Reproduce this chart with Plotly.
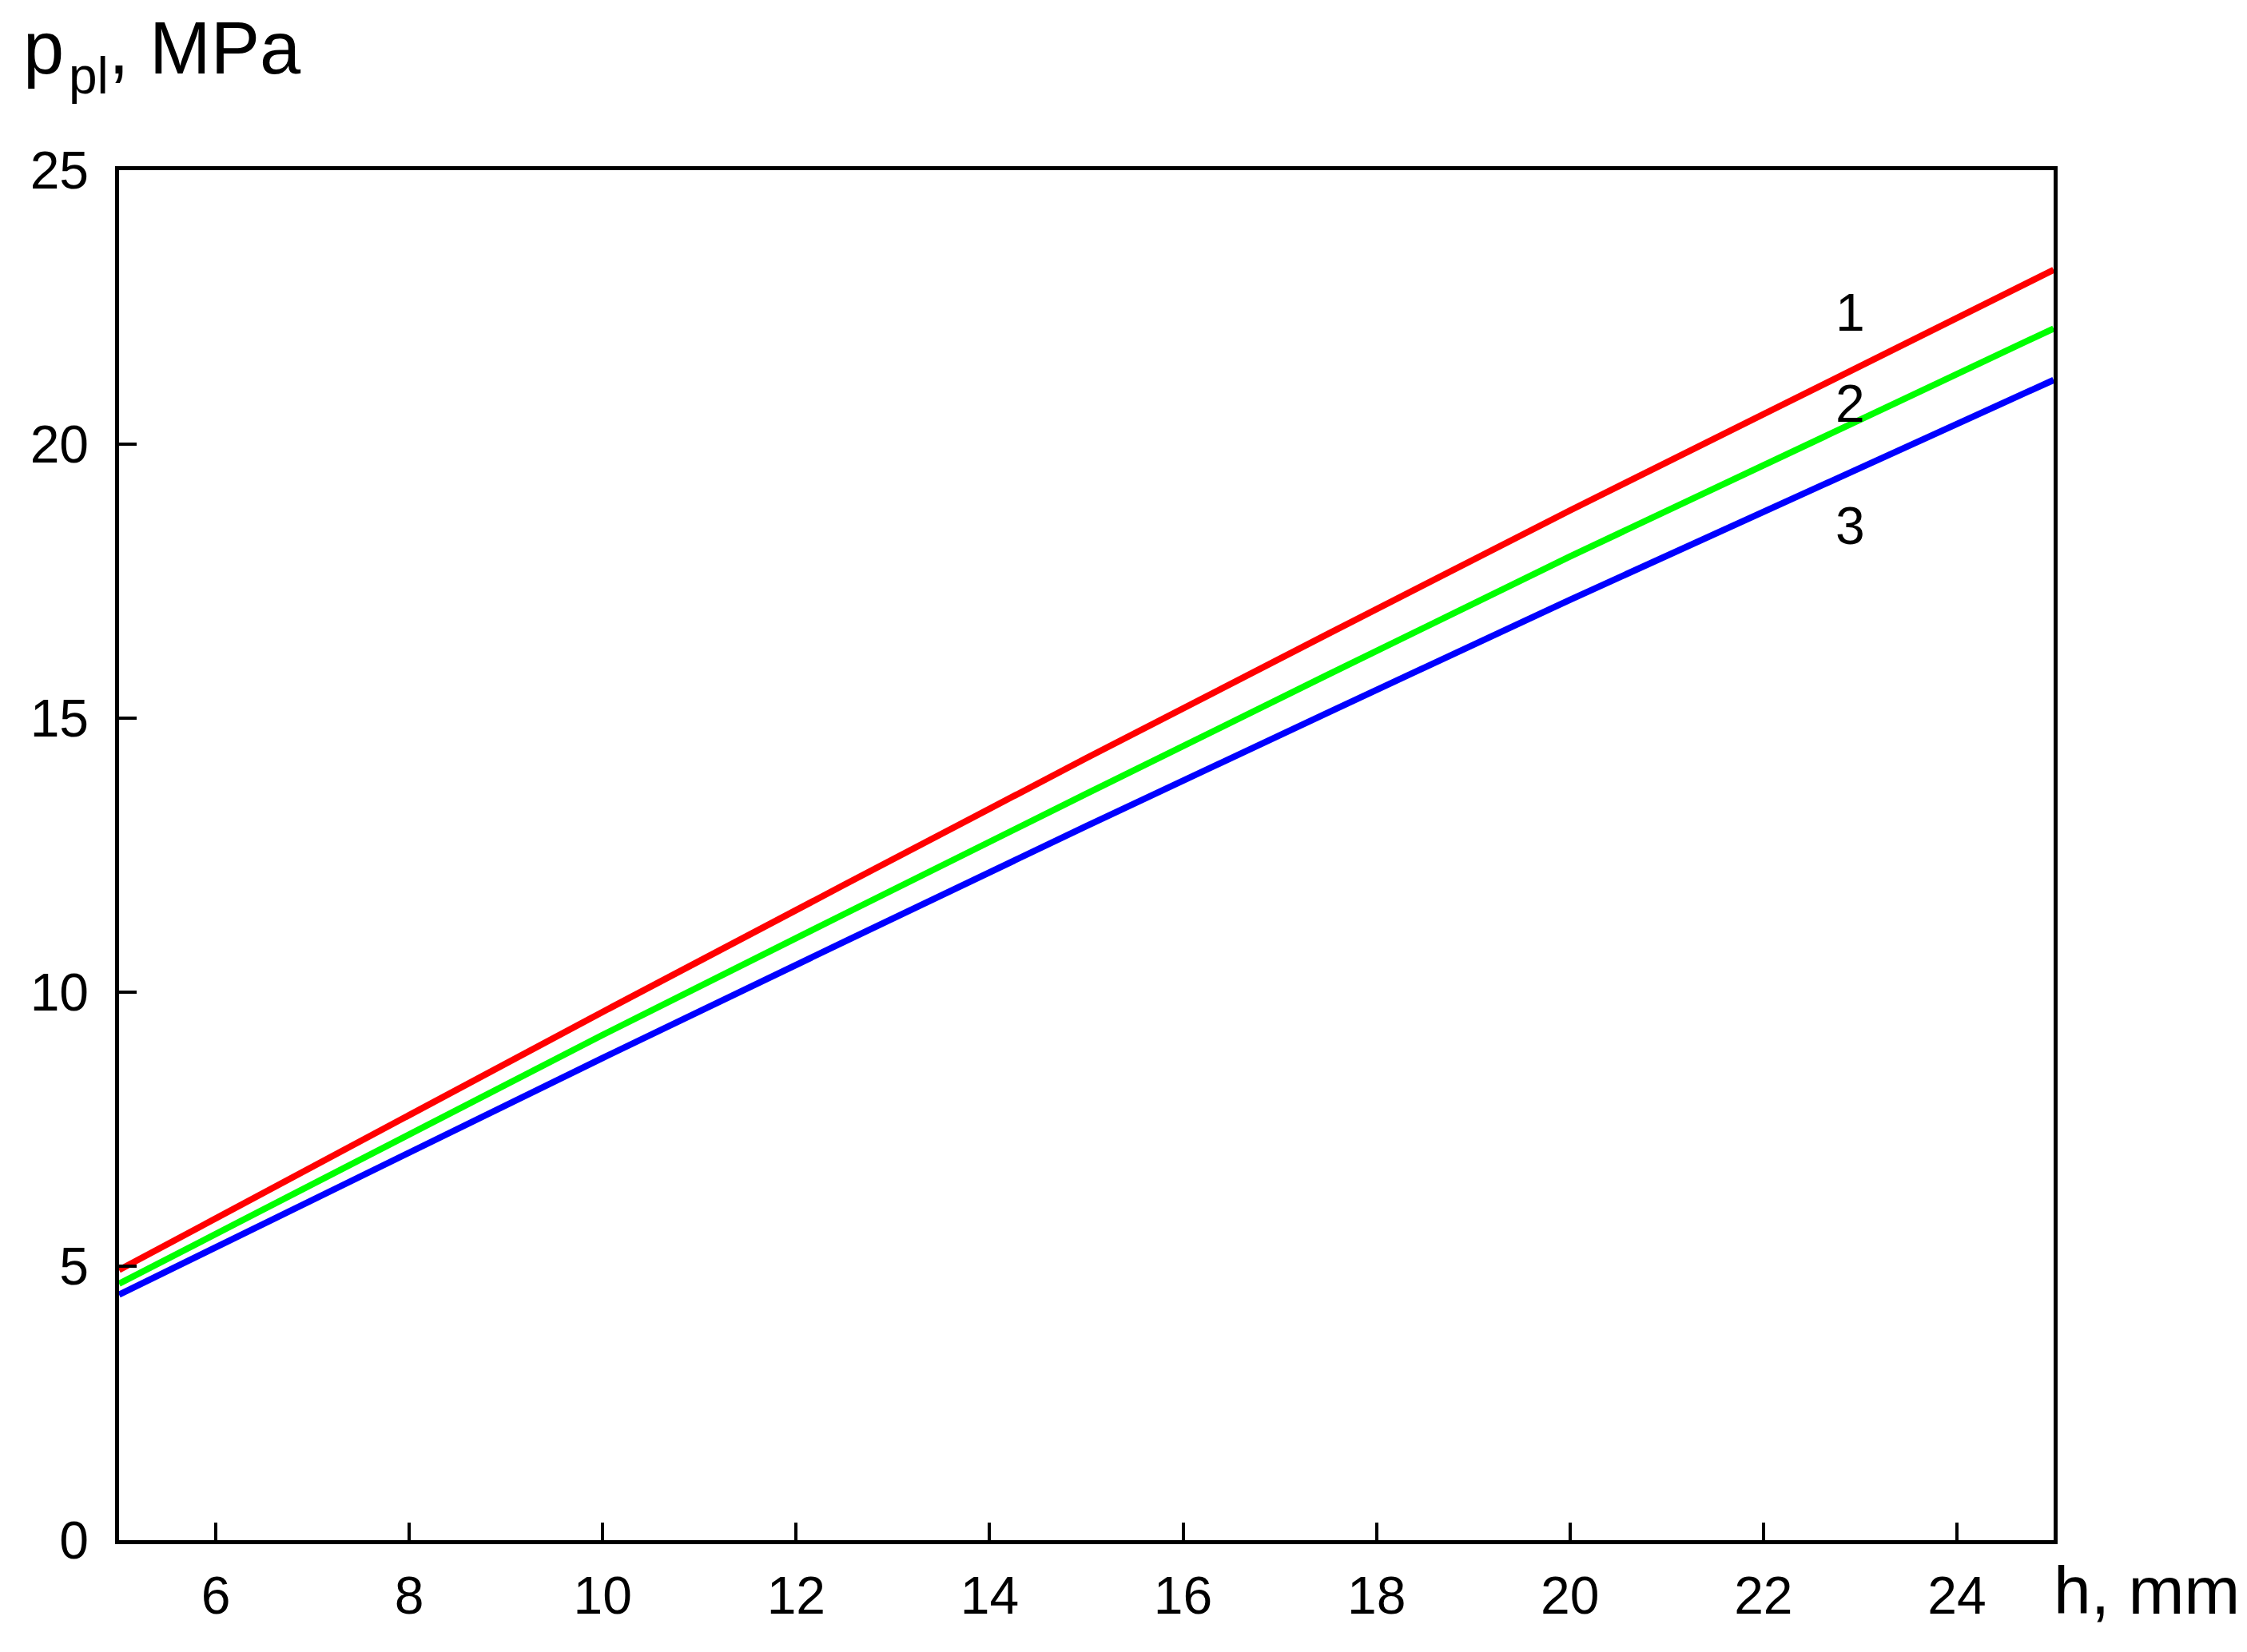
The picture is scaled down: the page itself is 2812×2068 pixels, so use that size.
import plotly.graph_objects as go

# h, mm
h = [5, 10, 15, 20, 25]

# p_pl, MPa for the three curves
p1 = [4.93, 9.64, 14.27, 18.79, 23.18]
p2 = [4.68, 9.22, 13.62, 17.95, 22.11]
p3 = [4.48, 8.80, 13.03, 17.16, 21.17]

curve_names = ["1", "2", "3"]
curve_colors = ["#ff0000", "#00ff00", "#0000ff"]
label_h = [22.9, 22.9, 22.9]
label_p = [22.41, 20.74, 18.51]

x_ticks = [6, 8, 10, 12, 14, 16, 18, 20, 22, 24]
y_ticks = [0, 5, 10, 15, 20, 25]

FONT = "Liberation Sans, Arial, sans-serif"

fig = go.Figure()
for name, p, c in zip(curve_names, [p1, p2, p3], curve_colors):
    fig.add_trace(go.Scatter(x=h, y=p, mode="lines", name=name,
                             line=dict(color=c, width=8, shape="spline",
                                       smoothing=0.6)))

for name, xh, yp in zip(curve_names, label_h, label_p):
    fig.add_annotation(x=xh, y=yp, text=name, showarrow=False,
                       font=dict(size=66, color="black", family=FONT))

# y axis title, split so the subscript sits lower like the original
fig.add_annotation(xref="paper", yref="paper", x=-0.0504, y=1.12,
                   xanchor="left", yanchor="top", showarrow=False,
                   text="p", font=dict(size=92, color="black", family=FONT))
fig.add_annotation(xref="paper", yref="paper", x=-0.0268, y=1.091,
                   xanchor="left", yanchor="top", showarrow=False,
                   text="pl", font=dict(size=64, color="black", family=FONT))
fig.add_annotation(xref="paper", yref="paper", x=-0.0062, y=1.12,
                   xanchor="left", yanchor="top", showarrow=False,
                   text=", MPa", font=dict(size=92, color="black", family=FONT))
# x axis title
fig.add_annotation(xref="paper", yref="paper", x=0.999, y=-0.037,
                   xanchor="left", yanchor="middle", showarrow=False,
                   text="h, mm",
                   font=dict(size=84, color="black", family=FONT))

axis_common = dict(showgrid=False, zeroline=False, showline=True,
                   linecolor="black", linewidth=4.5, mirror=True,
                   ticks="inside", ticklen=22, tickwidth=4, tickcolor="black",
                   tickfont=dict(size=66, color="black", family=FONT))

fig.update_xaxes(range=[5, 25], tickvals=x_ticks, ticklabelstandoff=8,
                 **axis_common)
fig.update_yaxes(range=[0, 25], tickvals=y_ticks, ticklabelstandoff=20,
                 **axis_common)

fig.update_layout(
    width=2812, height=2068,
    margin=dict(l=149, r=242, t=213, b=140),
    plot_bgcolor="white", paper_bgcolor="white",
    showlegend=False,
    font=dict(family=FONT, color="black"),
)

fig.write_html("out.html", config={"displayModeBar": False},
               post_script="document.body.style.margin='0';")
